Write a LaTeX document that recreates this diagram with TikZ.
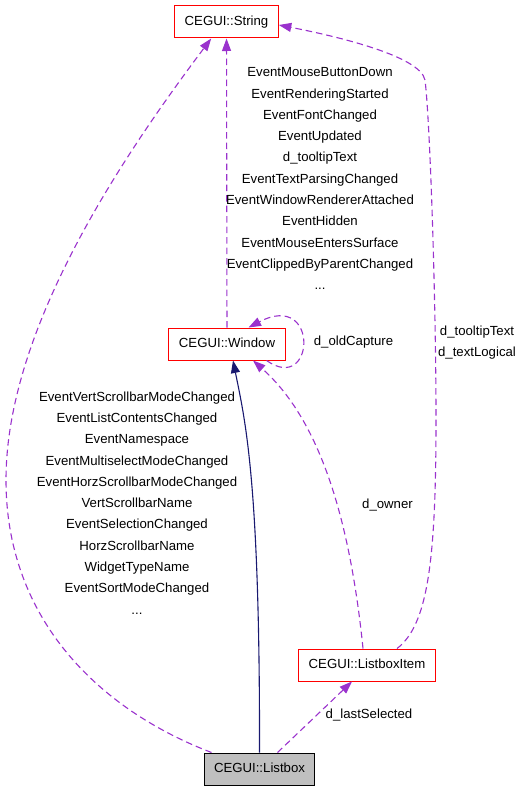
\documentclass[tikz,border=0pt]{standalone}
\usepackage{fontspec}
\setmainfont{Liberation Sans}
\usetikzlibrary{arrows.meta,positioning,calc}
\definecolor{usepurple}{HTML}{9A32CD}
\definecolor{inhnavy}{HTML}{191970}
\definecolor{curgray}{HTML}{BFBFBF}

\begin{document}
\begin{tikzpicture}[x=1pt, y=-1pt, font=\fontsize{13.2}{21.3}\selectfont]
    \tikzset{
      cls/.style={draw=red, line width=1pt, minimum height=32pt,
                  inner xsep=10pt, text height=9.5pt, text depth=2.7pt},
      cur/.style={cls, draw=black, fill=curgray},
      use/.style={draw=usepurple, line width=1.1pt, dash pattern=on 6.5pt off 4pt,
                  -{Triangle[length=12.5pt,width=9pt]}},
      inh/.style={draw=inhnavy, line width=1.1pt,
                  -{Triangle[length=12.5pt,width=9pt]}},
      lab/.style={align=center, inner sep=0pt, anchor=north},
      elab/.style={inner sep=0pt, anchor=base},
    }
    \useasboundingbox (0,0) rectangle (520,792);

    \node[cls] (str) at (226.5,22) {CEGUI::String};
    \node[cls] (win) at (227,344) {CEGUI::Window};
    \node[cls] (item) at (367,665) {CEGUI::ListboxItem};
    \node[cur] (lbox) at (259.5,769) {CEGUI::Listbox};

    % members of Window that are Strings
    \draw[use] (win) -- (str);
    \node[lab] (lws) at (320,67.5) {EventMouseButtonDown\\EventRenderingStarted\\EventFontChanged\\
      EventUpdated\\d\_tooltipText\\EventTextParsingChanged\\EventWindowRendererAttached\\
      EventHidden\\EventMouseEntersSurface\\EventClippedByParentChanged\\...};

    % d_oldCapture
    \draw[use] ([xshift=-19pt]win.south east) .. controls (315,395) and (320,290) .. ([xshift=-37pt]win.north east);
    \node[elab] (loc) at (353.5,345) {d\_oldCapture};

    % members of Listbox that are Strings
    \draw[use] ([xshift=8pt]lbox.north west) .. controls (100,710) and (6,620) .. (6,480)
      .. controls (6,330) and (120,160) .. ([xshift=37pt]str.south west);
    \node[lab] (lls) at (137,391.4) {EventVertScrollbarModeChanged\\EventListContentsChanged\\
      EventNamespace\\EventMultiselectModeChanged\\EventHorzScrollbarModeChanged\\
      VertScrollbarName\\EventSelectionChanged\\HorzScrollbarName\\WidgetTypeName\\
      EventSortModeChanged\\...};

    % Listbox derives from Window
    \draw[inh] (lbox.north) .. controls (260,480) and (245,420) .. ([xshift=6pt]win.south);

    % ListboxItem members
    \draw[use] ([xshift=30pt]item.north) .. controls (428,625) and (436,560) .. (436,420)
      .. controls (436,300) and (430,120) .. (425,80)
      .. controls (420,55) and (330,35) .. ([yshift=-3pt]str.east);
    \node[lab] (lis) at (477,325.4) {d\_tooltipText\\d\_textLogical};

    \draw[use] ([xshift=-4pt]item.north) .. controls (350,520) and (320,420) .. ([xshift=26pt]win.south);
    \node[elab] (low) at (387.5,508) {d\_owner};

    \draw[use] ([xshift=18pt]lbox.north) -- ([xshift=-15pt]item.south);
    \node[elab] (lsel) at (369,718) {d\_lastSelected};
  \end{tikzpicture}
\end{document}
